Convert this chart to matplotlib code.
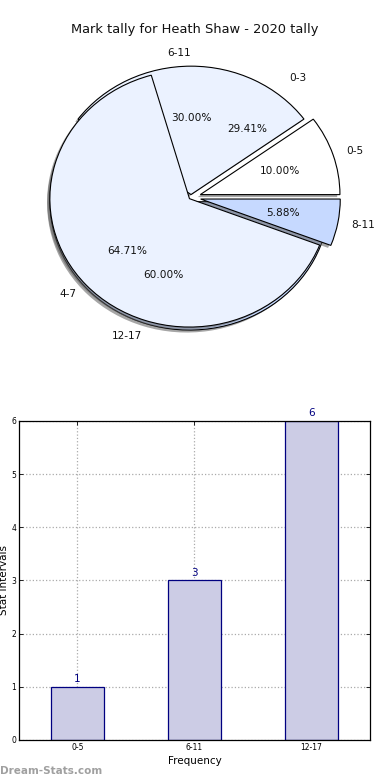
import matplotlib
matplotlib.use("Agg")
import matplotlib.pyplot as plt
from matplotlib.patches import Shadow

# ---- data ----
title = "Mark tally for Heath Shaw - 2020 tally"
freq_labels = ["0-5", "6-11", "12-17"]
freq_values = [1, 3, 6]
stat_labels = ["0-3", "4-7", "8-11"]
stat_values = [5, 11, 1]
bar_labels = ["0-5", "6-11", "12-17"]
bar_values = [1, 3, 6]

fig = plt.figure(figsize=(3.9, 7.8), dpi=100)
fig.patch.set_facecolor("white")

# ---- pie ----
ax1 = fig.add_axes([0.0423, 0.5412, 0.895, 0.4115])
col_a = ["#FFFFFF", "#EBF2FF", "#C6D9FF"]
col_b = ["none", "#EBF2FF", "#C6D9FF"]
shadow_props = dict(ox=-0.014, oy=-0.014)
wa, ta, pa = ax1.pie(freq_values, labels=freq_labels, colors=col_a,
                     explode=(0.07, 0.022, 0.035), autopct="%.2f%%",
                     shadow=shadow_props, startangle=0,
                     wedgeprops=dict(edgecolor="black", linewidth=0.8, zorder=1),
                     textprops=dict(fontsize=7.6, color="#111111"))
wb, tb, pb = ax1.pie(stat_values, labels=stat_labels, colors=col_b,
                     explode=(0.07, 0.015, 0.07), autopct="%.2f%%",
                     shadow=shadow_props, startangle=0,
                     wedgeprops=dict(edgecolor="black", linewidth=0.8, zorder=3),
                     textprops=dict(fontsize=7.6, color="#111111"))
# first stat wedge is only a placeholder (invisible)
wb[0].set_edgecolor("none")
for p in list(ax1.patches):
    if isinstance(p, Shadow):
        if p.patch is wb[0]:
            p.remove()
        else:
            p.set_facecolor("#5e5e5e")
            p.set_edgecolor("none")
            p.set_linewidth(0)
            p.set_alpha(0.55)
for t in list(ta) + list(tb) + list(pa) + list(pb):
    t.set_zorder(6)
ta[1].set_horizontalalignment("right")
ax1.set_aspect("auto")
ax1.set_xlim(-1.25, 1.25)
ax1.set_ylim(-1.25, 1.25)
fig.text(0.5, 1 - 30 / 780, title, ha="center", va="center", fontsize=9.4,
         color="#111111")

# ---- bar ----
ax2 = fig.add_axes([0.0487, 0.0513, 0.9, 0.409])
x = list(range(len(bar_values)))
bars = ax2.bar(x, bar_values, width=0.45, color="#CCCCE5", edgecolor="#000080",
               linewidth=0.9, zorder=2)
for xi, v in zip(x, bar_values):
    ax2.annotate(str(v), (xi, v), xytext=(0, 2), textcoords="offset points",
                 ha="center", va="bottom", fontsize=7.5, color="#000080")
ax2.set_xlim(-0.5, 2.5)
ax2.set_ylim(0, 6)
ax2.set_xticks(x)
ax2.set_xticklabels(bar_labels)
ax2.set_yticks(range(0, 7))
ax2.tick_params(axis="both", direction="in", labelsize=5.5, top=True, right=True,
                length=3, width=0.6, pad=2)
ax2.grid(True, linestyle=":", color="#aaaaaa", linewidth=0.9, zorder=0)
ax2.set_axisbelow(True)
for s in ax2.spines.values():
    s.set_linewidth(0.9)
ax2.set_xlabel("Frequency", fontsize=7.5, labelpad=3)
ax2.set_ylabel("Stat Intervals", fontsize=7.5, labelpad=2)
fig.text(0.0, 1 - 771 / 780, "Dream-Stats.com", ha="left", va="center",
         fontsize=7.5, fontweight="bold", color="#A0A0A0")

fig.savefig("out.png", dpi=100, facecolor="white")
